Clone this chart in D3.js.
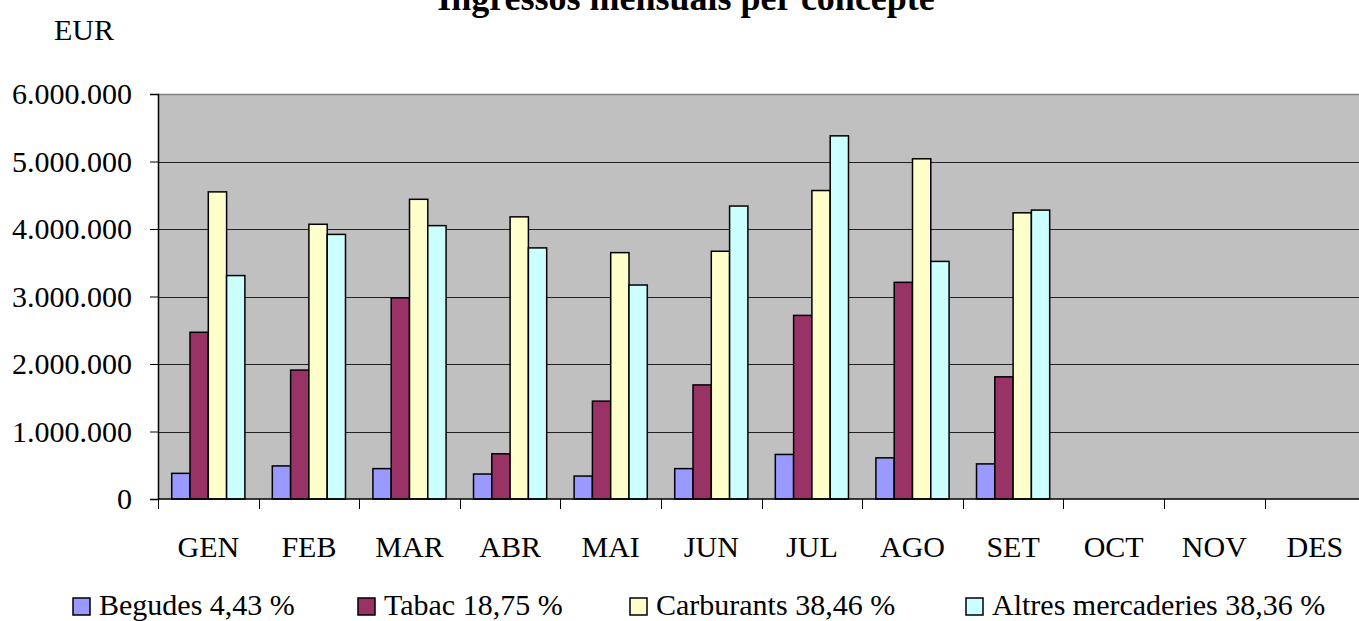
<!DOCTYPE html>
<html>
<head>
<meta charset="utf-8">
<script src="https://cdn.jsdelivr.net/npm/d3@7"></script>
<style>
  body { margin: 0; background: #fff; overflow: hidden; }
</style>
</head>
<body>
<div class="chart"></div>
<script>
// chart data
var months = ["GEN", "FEB", "MAR", "ABR", "MAI", "JUN", "JUL", "AGO", "SET", "OCT", "NOV", "DES"];
var seriesNames = ["Begudes 4,43 %", "Tabac 18,75 %", "Carburants 38,46 %", "Altres mercaderies 38,36 %"];
var begudes = [380000, 490000, 450000, 370000, 340000, 450000, 660000, 610000, 520000, null, null, null];
var tabac = [2470000, 1910000, 2980000, 670000, 1450000, 1690000, 2720000, 3210000, 1810000, null, null, null];
var carburants = [4550000, 4070000, 4440000, 4180000, 3650000, 3670000, 4570000, 5040000, 4240000, null, null, null];
var altres = [3310000, 3920000, 4050000, 3720000, 3170000, 4340000, 5380000, 3520000, 4280000, null, null, null];
var yTicks = [0, 1000000, 2000000, 3000000, 4000000, 5000000, 6000000];

var colors = ["#9999FF", "#993366", "#FFFFCC", "#CCFFFF"];
var allSeries = [begudes, tabac, carburants, altres];
var serif = "'Liberation Serif', 'Times New Roman', 'DejaVu Serif', serif";

var svgWidth = 1359, svgHeight = 621;
var plot = { left: 158, top: 94, bottom: 499, right: 158 + 12 * 100.6 };

var svg = d3.select(".chart").append("svg")
  .attr("width", svgWidth)
  .attr("height", svgHeight)
  .attr("font-family", serif);

// scales
var x0 = d3.scaleBand().domain(months).range([plot.left, plot.right]).padding(0);
var x1 = d3.scaleBand().domain(d3.range(4)).range([0, x0.bandwidth()]).paddingInner(0).paddingOuter(0.75);
var y = d3.scaleLinear().domain([0, 6000000]).range([plot.bottom, plot.top]);

var locale = d3.formatLocale({ decimal: ",", thousands: ".", grouping: [3], currency: ["", " €"] });
var fmt = locale.format(",d");

// plot background
svg.append("rect")
  .attr("x", plot.left)
  .attr("y", plot.top)
  .attr("width", plot.right - plot.left)
  .attr("height", plot.bottom - plot.top)
  .attr("fill", "#C0C0C0");

// gridlines
svg.append("g").selectAll("line")
  .data(yTicks.filter(function(d) { return d > 0 && d < 6000000; }))
  .enter().append("line")
  .attr("x1", plot.left).attr("x2", plot.right)
  .attr("y1", function(d) { return Math.round(y(d)) + 0.5; })
  .attr("y2", function(d) { return Math.round(y(d)) + 0.5; })
  .attr("stroke", "#222").attr("stroke-width", 1);

// top border of the plot area
svg.append("line")
  .attr("x1", plot.left).attr("x2", plot.right)
  .attr("y1", plot.top + 0.5).attr("y2", plot.top + 0.5)
  .attr("stroke", "#808080").attr("stroke-width", 1.5);

// bars
var groups = svg.append("g").selectAll("g")
  .data(allSeries)
  .enter().append("g")
  .attr("fill", function(d, i) { return colors[i]; });

groups.each(function(values, si) {
  d3.select(this).selectAll("rect")
    .data(values.map(function(v, mi) { return { m: months[mi], v: v }; }).filter(function(d) { return d.v != null; }))
    .enter().append("rect")
    .attr("x", function(d) { return x0(d.m) + x1(si); })
    .attr("y", function(d) { return y(d.v); })
    .attr("width", x1.bandwidth())
    .attr("height", function(d) { return y(0) - y(d.v); })
    .attr("stroke", "#000")
    .attr("stroke-width", 1.5);
});

// y axis
var yAxis = d3.axisLeft(y).tickValues(yTicks).tickFormat(fmt).tickSize(8).tickPadding(18);
var yG = svg.append("g")
  .attr("transform", "translate(" + plot.left + ",0)")
  .call(yAxis)
  .attr("font-family", serif)
  .attr("font-size", 30);
yG.select(".domain").attr("stroke", "#000").attr("stroke-width", 1.5);
yG.selectAll(".tick line").attr("stroke", "#000");
yG.selectAll("text").attr("fill", "#000");

// x axis: labels at band centres, ticks at band boundaries
var xAxis = d3.axisBottom(x0).tickSize(0).tickPadding(37);
var xG = svg.append("g")
  .attr("transform", "translate(0," + plot.bottom + ")")
  .call(xAxis)
  .attr("font-family", serif)
  .attr("font-size", 30);
xG.select(".domain").remove();
xG.selectAll("text").attr("fill", "#000");

var bounds = months.map(function(m) { return x0(m); }).concat([plot.right]);
svg.append("g").selectAll("line")
  .data(bounds)
  .enter().append("line")
  .attr("x1", function(d) { return Math.round(d) + 0.5; })
  .attr("x2", function(d) { return Math.round(d) + 0.5; })
  .attr("y1", plot.bottom).attr("y2", plot.bottom + 10)
  .attr("stroke", "#000");

svg.append("line")
  .attr("x1", plot.left).attr("x2", plot.right)
  .attr("y1", plot.bottom).attr("y2", plot.bottom)
  .attr("stroke", "#000").attr("stroke-width", 1.5);

// title (cut off at the top, as in the original) and unit label
svg.append("text")
  .attr("x", 686).attr("y", 10)
  .attr("text-anchor", "middle")
  .attr("font-size", 36)
  .attr("font-weight", "bold")
  .text("Ingressos mensuals per concepte");

svg.append("text")
  .attr("x", 54).attr("y", 40)
  .attr("font-size", 30)
  .text("EUR");

// legend
var legendX = [73, 358, 630, 966];
var legend = svg.append("g").selectAll("g")
  .data(seriesNames)
  .enter().append("g")
  .attr("transform", function(d, i) { return "translate(" + legendX[i] + ",598)"; });

legend.append("rect")
  .attr("width", 17).attr("height", 17)
  .attr("fill", function(d, i) { return colors[i]; })
  .attr("stroke", "#000").attr("stroke-width", 1.5);

legend.append("text")
  .attr("x", 26).attr("y", 17)
  .attr("font-size", 30)
  .text(function(d) { return d; });
</script>
</body>
</html>
